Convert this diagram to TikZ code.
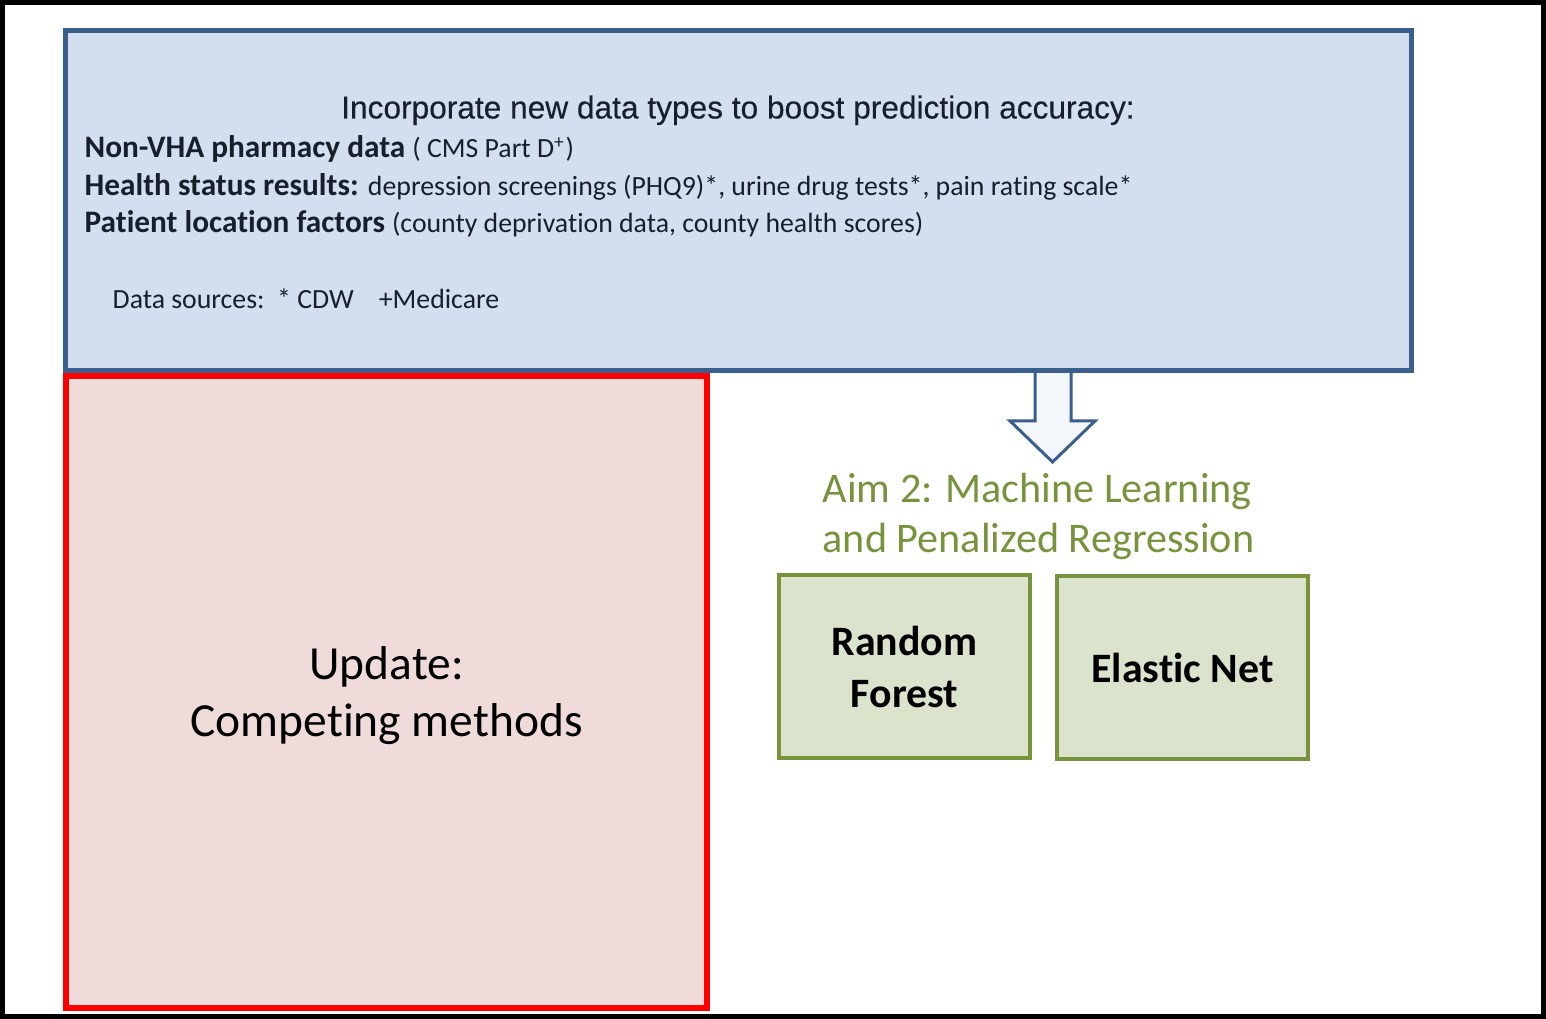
\documentclass[tikz,border=0pt]{standalone}
\usepackage{fontspec}
\setmainfont{Carlito}[Ligatures=NoCommon]
\newfontfamily\arialfont{Liberation Sans}[FakeBold=0.35]
\usetikzlibrary{positioning}

\definecolor{boxblue}{RGB}{58,95,140}
\definecolor{fillblue}{RGB}{211,223,238}
\definecolor{fillred}{RGB}{240,219,219}
\definecolor{aimgreen}{RGB}{119,147,60}
\definecolor{fillgreen}{RGB}{220,227,205}
\definecolor{txtdark}{RGB}{23,31,45}
\definecolor{arrowfill}{RGB}{243,246,251}

\newcommand{\headfont}{\fontsize{8.9}{10}\selectfont\bfseries}
\newcommand{\restfont}{\fontsize{7.9}{9}\selectfont\mdseries}

\begin{document}
\begin{tikzpicture}[x=0.01cm,y=-0.01cm,
  data box/.style={draw=boxblue,fill=fillblue,line width=1.4pt,
  anchor=north west,inner sep=0pt,outer sep=0pt},
  update box/.style={draw=red,fill=fillred,line width=1.7pt,outer sep=0pt,
  anchor=north west,inner sep=0pt},
  model box/.style={draw=aimgreen,fill=fillgreen,line width=1.1pt,outer sep=0pt,
  anchor=north west,align=center,minimum width=2.51cm,minimum height=1.83cm,
  font=\fontsize{11.9}{14.8}\selectfont\bfseries},
  body line/.style={anchor=base west,inner sep=0pt,text=txtdark},
  aim line/.style={anchor=base west,inner sep=0pt,text=aimgreen,
  font=\fontsize{12}{14}\selectfont}]

  % outer frame
  \draw[line width=1.4pt] (2.5,2.5) rectangle (1543.5,1016.5);

  % block arrow
  \draw[boxblue,fill=arrowfill,line width=0.85pt,line join=miter]
    (1035,370) -- (1035,421) -- (1010,421) -- (1052.5,462)
    -- (1095,421) -- (1071,421) -- (1071,370);

  \node[data box,minimum width=13.45cm,minimum height=3.40cm] (data) at (65.5,30.5) {};
  \node[update box,minimum width=6.41cm,minimum height=6.32cm] (update) at (66,376) {};
  \node[align=center,font=\fontsize{13.5}{16.2}\selectfont] (updatetext)
    at ([yshift=-0.03cm]update.center) {Update:\\Competing methods};

  \node[anchor=base,inner sep=0pt,text=txtdark,
    font=\arialfont\fontsize{9}{10}\selectfont] (title) at (738,118.5)
    {Incorporate new data types to boost prediction accuracy:};
  \node[body line] (pharm) at (84,158)
    {\headfont Non-VHA pharmacy data \restfont ( CMS Part D\textsuperscript{+})};
  \node[body line] (health) at (84,196)
    {\headfont Health status results:
    \restfont depression screenings (PHQ9)*, urine drug tests*, pain rating scale*};
  \node[body line] (location) at (84,233)
    {\headfont Patient location factors
    \restfont (county deprivation data, county health scores)};
  \node[body line,font=\restfont] (sources) at (112,309)
    {Data sources:\ \ * CDW\ \ \ \ +Medicare};

  \node[aim line] (aim) at (822,503) {Aim 2: Machine Learning};
  \node[aim line] (aimb) at (822,553) {and Penalized Regression};

  \node[model box] (forest) at (779,575) {Random\\Forest};
  \node[model box] (elastic) at (1057,576) {Elastic Net};
\end{tikzpicture}
\end{document}
